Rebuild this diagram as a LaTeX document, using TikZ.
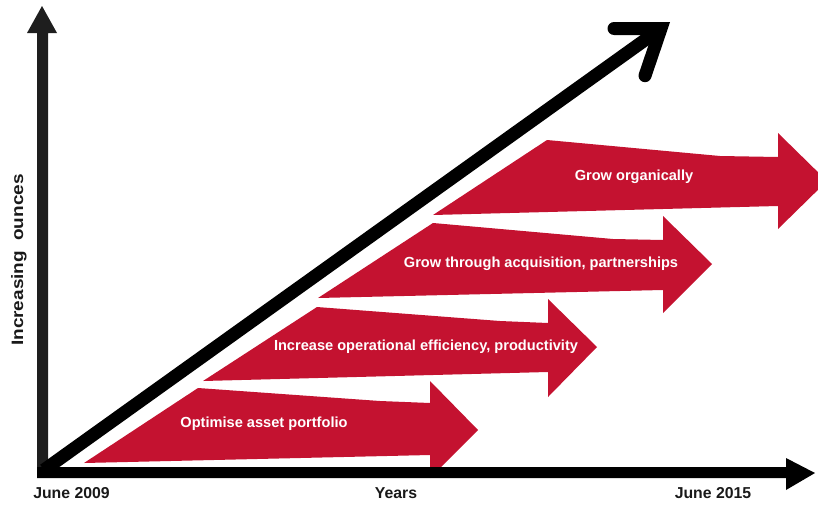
\documentclass[tikz,border=0pt]{standalone}
\usepackage{fontspec}
\setmainfont{Liberation Sans}
\definecolor{arrowred}{RGB}{196,18,48}
\definecolor{axisgray}{RGB}{30,30,30}
\definecolor{labelcol}{RGB}{25,25,25}
\begin{document}
\begin{tikzpicture}[x=1pt,y=-1pt,
  redarrow/.style={fill=arrowred,draw=none},
  arrowtext/.style={text=white,font=\fontsize{14.6}{16}\selectfont\bfseries,inner sep=0pt},
  axislabel/.style={text=labelcol,font=\fontsize{15.8}{18}\selectfont\bfseries,inner sep=0pt,anchor=base}]
\useasboundingbox (0,0) rectangle (818,506);
\clip (0,0) rectangle (818,506);
% red arrows
\fill[redarrow] (84,463) -- (198,388) -- (380,401) -- (430,403) -- (430,381) -- (478,430) -- (430,478) -- (430,455) -- cycle;
\fill[redarrow] (203,381) -- (317,307) -- (500,321) -- (548,323) -- (548,299) -- (597,347) -- (548,397) -- (548,372) -- cycle;
\fill[redarrow] (318,298) -- (433,223) -- (613,239) -- (663,240) -- (663,216) -- (712,264) -- (663,313) -- (663,290) -- cycle;
\fill[redarrow] (433,215) -- (547,140) -- (720,156) -- (778,157) -- (778,133) -- (827,181) -- (778,229) -- (778,206) -- cycle;
% arrow texts
\node[arrowtext] (t1) at (264,424) {Optimise asset portfolio};
\node[arrowtext] (t2) at (426,347) {Increase operational efficiency, productivity};
\node[arrowtext] (t3) at (541,264) {Grow through acquisition, partnerships};
\node[arrowtext] (t4) at (634,177) {Grow organically};
% vertical axis
\fill[axisgray] (37,472) -- (37,33) -- (27,33) -- (42,6) -- (57,33) -- (48,33) -- (48,472) -- cycle;
% horizontal axis
\fill[black] (37,467) -- (786,467) -- (786,458) -- (815,473) -- (786,490) -- (786,478) -- (37,478) -- cycle;
% diagonal arrow
\coordinate (o) at (44,470);
\coordinate (tip) at (661,28.5);
\coordinate (armA) at (614,28.5);
\coordinate (armB) at (645,75.7);
\draw[line width=13,black] (o) -- (tip);
\draw[line width=13,black,line cap=round,line join=miter] (armA) -- (tip) -- (armB);
% labels
\node[axislabel] (l1) at (71.5,498) {June 2009};
\node[axislabel] (l2) at (396,498) {Years};
\node[axislabel] (l3) at (713,498) {June 2015};
\node[text=labelcol,font=\fontsize{16.5}{18}\selectfont\bfseries,inner sep=0pt,rotate=90] (yl) at (19,260) {\scalebox{1.15}[1]{Increasing\hspace{9pt}ounces}};
\end{tikzpicture}
\end{document}
